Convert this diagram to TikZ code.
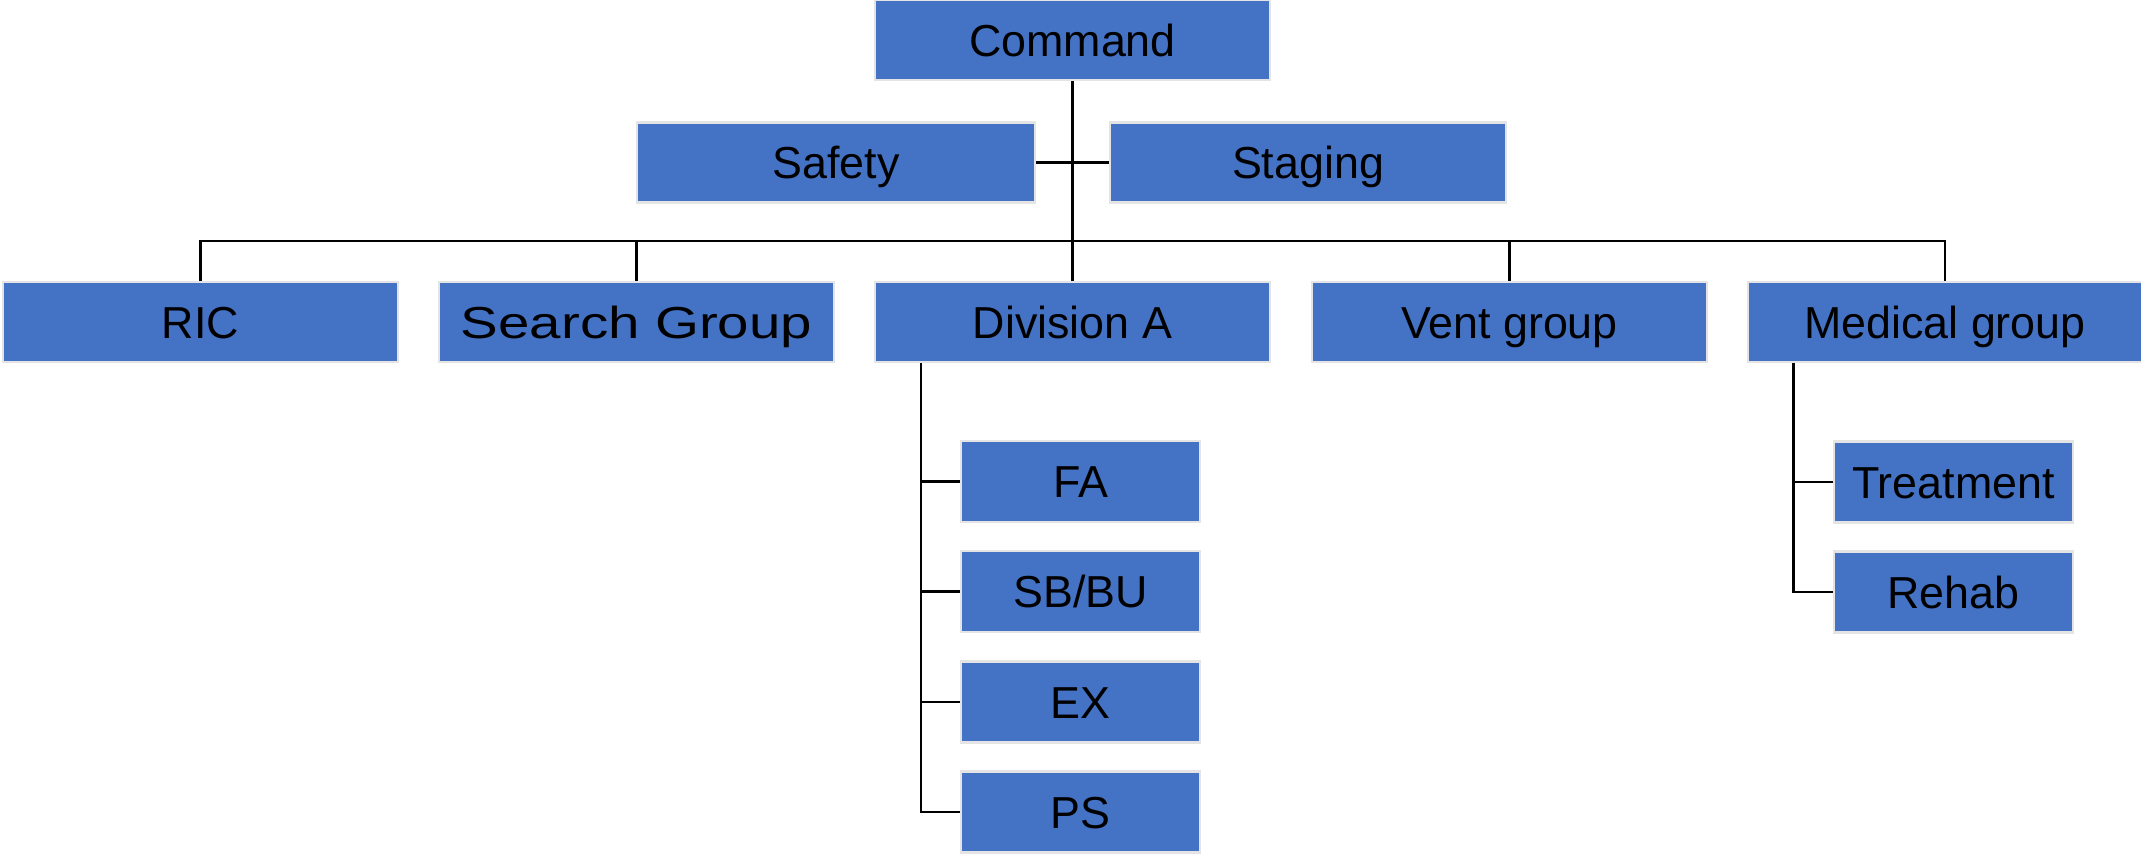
\documentclass[tikz,border=0pt]{standalone}
\usepackage{fontspec}
\setmainfont{Liberation Sans}
\usepackage{tikz}
\usetikzlibrary{positioning}

\definecolor{boxblue}{HTML}{4472C4}
\definecolor{boxedge}{HTML}{E4E4E4}

\tikzset{
  unit/.style={draw=boxedge, line width=1.2pt, fill=boxblue, text=black,
    minimum width=7.9cm, minimum height=1.6cm, inner sep=0pt,
    text height=18.3pt, text depth=0pt,
    font=\fontsize{25.5}{30}\selectfont},
  subunit/.style={unit, minimum width=4.78cm, minimum height=1.62cm},
  link/.style={line width=1.5pt, black}
}

\begin{document}
\begin{tikzpicture}[x=0.02cm, y=-0.02cm]
      \useasboundingbox (0,0) rectangle (2141,855);
      % top of the chart
      \node[unit] (cmd) at (1072.5,40) {Command};
      \node[unit, minimum width=7.96cm] (safety) at (836,162.5) {Safety};
      \node[unit, minimum width=7.92cm] (staging) at (1308,162.5) {Staging};
      % second row
      \node[unit] (ric) at (200.5,322) {RIC};
      \node[unit] (search) at (636.5,322) {\scalebox{1.26}[1]{Search Group}};
      \node[unit] (div) at (1072.5,322) {Division A};
      \node[unit] (vent) at (1509.5,322) {Vent group};
      \node[unit] (med) at (1945,322) {Medical group};
      % under Division A
      \node[subunit] (fa) at (1080.5,481.5) {FA};
      \node[subunit] (sbbu) at (1080.5,591.5) {SB/BU};
      \node[subunit] (ex) at (1080.5,702) {EX};
      \node[subunit] (ps) at (1080.5,812) {PS};
      % under Medical group
      \node[subunit] (treat) at (1953.5,482) {Treatment};
      \node[subunit] (rehab) at (1953.5,592) {Rehab};

      \draw[link] (cmd.south) -- (div.north);
      \draw[link] (safety.east) -- (staging.west);
      \draw[link] (ric.north) -- ++(0,-40) -| (med.north);
      \draw[link] (search.north) -- ++(0,-40);
      \draw[link] (vent.north) -- ++(0,-40);

      \coordinate (divbus) at ([xshift=0.94cm]div.south west);
      \draw[link] (divbus) |- (ps.west);
      \draw[link] (divbus |- fa.west) -- (fa.west);
      \draw[link] (divbus |- sbbu.west) -- (sbbu.west);
      \draw[link] (divbus |- ex.west) -- (ex.west);

      \coordinate (medbus) at ([xshift=0.94cm]med.south west);
      \draw[link] (medbus) |- (rehab.west);
      \draw[link] (medbus |- treat.west) -- (treat.west);
    \end{tikzpicture}
\end{document}
